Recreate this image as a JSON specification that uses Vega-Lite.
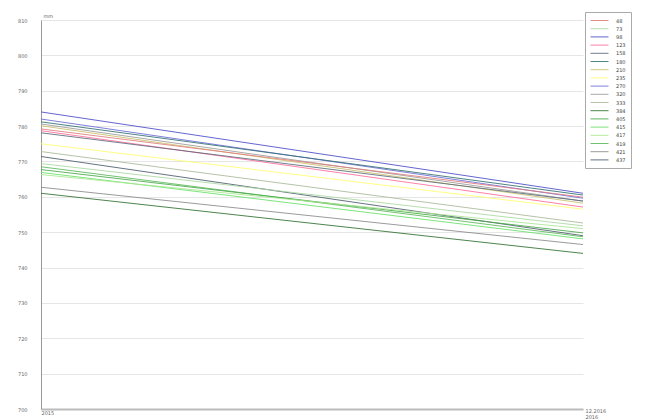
{
  "$schema": "https://vega.github.io/schema/vega-lite/v6.json",
  "width": 542,
  "height": 389,
  "autosize": "none",
  "padding": {"left": 41, "top": 20, "right": 75, "bottom": 11},
  "background": "white",
  "config": {
    "view": {"stroke": null},
    "font": "DejaVu Sans"
  },
  "data": {
    "values": [
      {"t": "2015", "s": "98", "v": 784.0}, {"t": "2016", "s": "98", "v": 761.0},
      {"t": "2015", "s": "270", "v": 782.0}, {"t": "2016", "s": "270", "v": 759.6},
      {"t": "2015", "s": "180", "v": 781.2}, {"t": "2016", "s": "180", "v": 760.5},
      {"t": "2015", "s": "320", "v": 780.6}, {"t": "2016", "s": "320", "v": 758.8},
      {"t": "2015", "s": "210", "v": 780.1}, {"t": "2016", "s": "210", "v": 758.2},
      {"t": "2015", "s": "48", "v": 779.2}, {"t": "2016", "s": "48", "v": 759.9},
      {"t": "2015", "s": "123", "v": 778.7}, {"t": "2016", "s": "123", "v": 757.1},
      {"t": "2015", "s": "158", "v": 778.1}, {"t": "2016", "s": "158", "v": 758.8},
      {"t": "2015", "s": "235", "v": 775.0}, {"t": "2016", "s": "235", "v": 756.5},
      {"t": "2015", "s": "333", "v": 772.8}, {"t": "2016", "s": "333", "v": 752.6},
      {"t": "2015", "s": "437", "v": 771.4}, {"t": "2016", "s": "437", "v": 749.0},
      {"t": "2015", "s": "73", "v": 769.4}, {"t": "2016", "s": "73", "v": 751.8},
      {"t": "2015", "s": "419", "v": 768.5}, {"t": "2016", "s": "419", "v": 748.7},
      {"t": "2015", "s": "405", "v": 767.7}, {"t": "2016", "s": "405", "v": 749.8},
      {"t": "2015", "s": "415", "v": 766.9}, {"t": "2016", "s": "415", "v": 748.1},
      {"t": "2015", "s": "417", "v": 766.3}, {"t": "2016", "s": "417", "v": 751.0},
      {"t": "2015", "s": "421", "v": 762.7}, {"t": "2016", "s": "421", "v": 746.5},
      {"t": "2015", "s": "384", "v": 761.0}, {"t": "2016", "s": "384", "v": 744.0}
    ]
  },
  "mark": {"type": "line", "strokeWidth": 1, "opacity": 0.85},
  "encoding": {
    "x": {
      "field": "t", "type": "ordinal",
      "scale": {"type": "point", "padding": 0},
      "axis": {
        "title": null, "labelAngle": 0, "labelAlign": "left", "labelFontSize": 5,
        "labelColor": "#666", "domainColor": "#bbb", "domainWidth": 2, "ticks": false,
        "labelPadding": 1, "labelLineHeight": 6,
        "labelBaseline": {"condition": {"test": "datum.value == '2016'", "value": "middle"}, "value": "top"},
        "labelOffset": {"condition": {"test": "datum.value == '2016'", "value": 2}, "value": 0},
        "labelExpr": "datum.value == '2016' ? ['12.2016', '2016'] : datum.label"
      }
    },
    "y": {
      "field": "v", "type": "quantitative",
      "scale": {"domain": [700, 810], "nice": false, "zero": false},
      "axis": {
        "values": [700, 710, 720, 730, 740, 750, 760, 770, 780, 790, 800, 810],
        "title": "mm", "titleAngle": 0, "titleAlign": "left", "titleX": 2, "titleY": -2,
        "titleFontSize": 5, "titleFontWeight": "normal", "titleColor": "#666",
        "labelFontSize": 5, "labelColor": "#666", "labelPadding": 14,
        "ticks": false, "domainColor": "#999", "domainWidth": 1,
        "grid": true, "gridColor": "#e6e6e6"
      }
    },
    "color": {
      "field": "s", "type": "nominal",
      "scale": {
        "domain": ["48","73","98","123","158","180","210","235","270","320","333","384","405","415","417","419","421","437"],
        "range": ["#e07a7a","#a8d8a0","#4a4ac8","#ff6b9a","#5a6878","#2f6f70","#c8c068","#ffff70","#6a6ad8","#9a9a9a","#a8b898","#2f6f2f","#48a848","#66e066","#a8e890","#58b858","#8a8a8a","#4a5a6a"]
      },
      "legend": {
        "orient": "none", "legendX": 544, "legendY": -8,
        "title": null, "symbolType": "M-3,0H3", "symbolSize": 36, "symbolStrokeWidth": 1,
        "symbolOffset": 6, "labelOffset": 13,
        "labelFontSize": 5, "rowPadding": 1.2, "labelLimit": 60,
        "labelExpr": "datum.label + '            '",
        "strokeColor": "#aaa", "padding": 5, "fillColor": "white",
        "labelColor": "#444"
      }
    }
  }
}
